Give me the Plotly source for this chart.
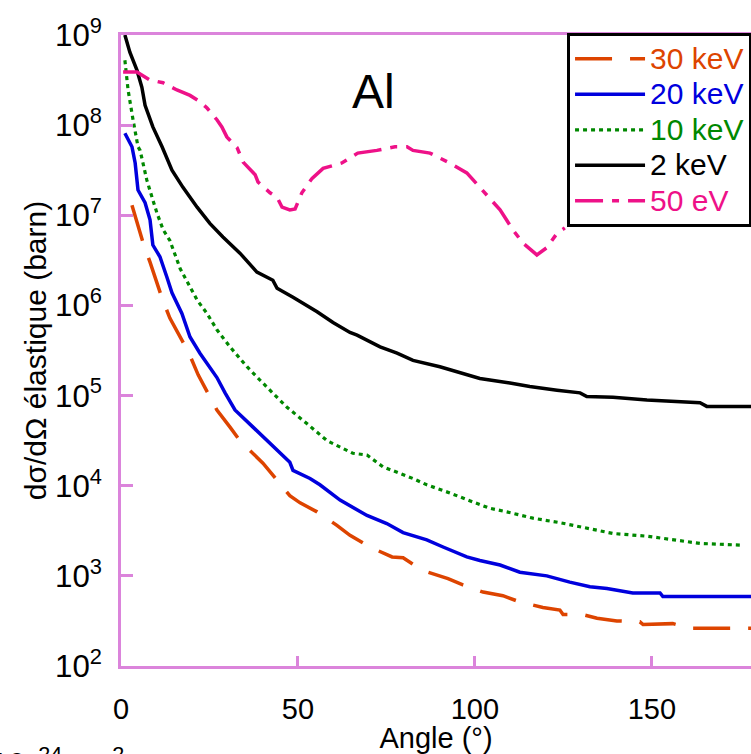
import plotly.graph_objects as go

# ---------------- data ----------------
names = ["30 keV", "20 keV", "10 keV", "2 keV", "50 eV"]
colors = ["#dd4400", "#0000dd", "#008800", "#000000", "#ee1188"]

angle_30kev = [3.1, 6.2, 8.2, 11.6, 13.8, 16.7, 19.2, 21.8, 27.1, 30.8, 33.6, 40.1, 44.9, 47.7, 50.6,
               55.4, 61.0, 64.7, 70.3, 76.6, 79.7, 83.6, 86.7, 92.4, 96.6, 102.3, 107.9, 112.7, 119.2,
               124.0, 124.9, 130.5, 134.5, 140.1, 146.6, 147.5, 155.9, 160.7, 178.0]
log_30kev = [7.11, 6.70, 6.48, 6.08, 5.86, 5.65, 5.47, 5.23, 4.84, 4.65, 4.50, 4.25, 4.03, 3.89, 3.81,
             3.71, 3.56, 3.45, 3.32, 3.21, 3.20, 3.10, 3.04, 2.97, 2.90, 2.82, 2.78, 2.71, 2.65,
             2.62, 2.57, 2.57, 2.53, 2.50, 2.49, 2.46, 2.47, 2.42, 2.42]

angle_20kev = [1.1, 3.1, 4.0, 4.8, 6.8, 8.2, 9.0, 11.0, 13.0, 14.4, 17.2, 19.5, 22.3, 27.1, 29.4, 32.2,
               37.3, 41.2, 45.8, 47.7, 48.6, 53.4, 56.2, 61.9, 69.5, 75.1, 79.7, 86.4, 91.0, 97.7,
               101.4, 107.1, 112.7, 120.3, 126.8, 132.5, 137.3, 144.6, 152.3, 153.1, 178.0]
log_20kev = [7.91, 7.76, 7.58, 7.28, 7.14, 6.95, 6.67, 6.54, 6.31, 6.14, 5.91, 5.65, 5.47, 5.20, 5.03, 4.84,
             4.65, 4.50, 4.32, 4.26, 4.17, 4.08, 4.01, 3.84, 3.67, 3.58, 3.48, 3.40, 3.32, 3.21,
             3.17, 3.12, 3.04, 3.00, 2.93, 2.88, 2.86, 2.81, 2.81, 2.77, 2.77]

angle_10kev = [1.1, 2.0, 3.4, 4.8, 5.4, 7.3, 9.0, 10.2, 11.9, 13.8, 16.7, 18.9, 21.5, 24.3, 27.1, 30.8,
               35.6, 39.3, 42.9, 46.9, 52.5, 58.2, 65.5, 69.5, 74.0, 82.5, 86.4, 92.9, 99.4, 104.2,
               109.0, 116.4, 124.0, 131.6, 139.0, 148.6, 154.2, 163.6, 175.7]
log_10kev = [8.72, 8.39, 8.06, 7.76, 7.72, 7.39, 7.17, 7.02, 6.84, 6.72, 6.41, 6.25, 6.06, 5.91, 5.73, 5.54,
             5.32, 5.17, 5.03, 4.87, 4.69, 4.50, 4.36, 4.34, 4.21, 4.08, 4.01, 3.92, 3.82, 3.75,
             3.71, 3.64, 3.59, 3.53, 3.47, 3.44, 3.41, 3.36, 3.34]

angle_2kev = [1.1, 2.5, 4.5, 5.9, 6.8, 9.0, 11.6, 14.4, 17.5, 21.5, 25.1, 28.8, 33.6, 38.4, 42.9, 44.1,
              48.6, 55.4, 59.9, 64.7, 66.7, 73.2, 78.0, 82.5, 90.1, 95.8, 101.4, 109.9, 115.5, 123.2,
              129.7, 131.6, 139.0, 148.6, 163.6, 165.5, 178.0]
log_2kev = [9.0, 8.81, 8.61, 8.42, 8.22, 7.98, 7.76, 7.50, 7.31, 7.09, 6.91, 6.76, 6.58, 6.37, 6.28, 6.19,
            6.09, 5.93, 5.81, 5.70, 5.67, 5.54, 5.47, 5.39, 5.32, 5.25, 5.19, 5.14, 5.10, 5.06,
            5.03, 4.99, 4.98, 4.95, 4.92, 4.88, 4.88]

angle_50ev = [0.6, 4.5, 8.2, 11.9, 15.8, 19.5, 22.3, 24.3, 27.1, 28.5, 29.9, 32.8, 34.5, 37.9, 38.7, 42.1,
              44.1, 45.5, 47.7, 49.2, 51.1, 54.0, 57.1, 62.4, 66.9, 72.3, 77.4, 80.8, 82.5, 87.3,
              92.9, 97.7, 101.4, 107.1, 110.7, 113.6, 117.5, 120.3, 123.2, 125.4]
log_50ev = [8.59, 8.59, 8.50, 8.47, 8.39, 8.33, 8.26, 8.19, 8.06, 7.98, 7.87, 7.75, 7.59, 7.45, 7.37, 7.25,
            7.20, 7.09, 7.06, 7.07, 7.25, 7.41, 7.52, 7.58, 7.69, 7.72, 7.76, 7.76, 7.72, 7.69,
            7.58, 7.47, 7.31, 7.06, 6.84, 6.69, 6.56, 6.64, 6.80, 6.86]

x_ticks = [0, 50, 100, 150]
title_text = "Al"
x_title = "Angle (°)"
y_title = "dσ/dΩ élastique (barn)"

# ---------------- figure ----------------
FONT = "Liberation Sans, Arial, sans-serif"
AXIS_COLOR = "#db84db"

series = [
    (angle_30kev, log_30kev, "37px,18px", 3.5),
    (angle_20kev, log_20kev, "solid", 3.5),
    (angle_10kev, log_10kev, "4px,4px", 3.2),
    (angle_2kev, log_2kev, "solid", 3.5),
    (angle_50ev, log_50ev, "28px,9px,7px,9px", 3.5),
]

fig = go.Figure()
for (xs, ls, dash, w), name, col in zip(series, names, colors):
    fig.add_trace(go.Scatter(
        x=xs, y=[10 ** v for v in ls], mode="lines",
        name=f'<span style="font-size:30px;color:{col}">{name}</span>',
        line=dict(color=col, width=w, dash=dash),
    ))

fig.update_layout(
    width=751, height=754,
    margin=dict(l=121, r=0, t=35, b=88, autoexpand=False),
    paper_bgcolor="white", plot_bgcolor="white",
    font=dict(family=FONT, size=29, color="black"),
    showlegend=True,
    legend=dict(
        x=0.708, y=1.003, xanchor="left", yanchor="top",
        bgcolor="white", bordercolor="black", borderwidth=3,
        font=dict(size=25, family=FONT),
        itemwidth=70, tracegroupgap=0,
        entrywidth=140, entrywidthmode="pixels",
    ),
    annotations=[
        dict(text=title_text, xref="paper", yref="paper", x=0.40, y=0.91,
             showarrow=False, font=dict(size=48, family=FONT, color="black"),
             xanchor="center", yanchor="middle"),
        dict(text="10<sup>−24</sup> cm<sup>2</sup>", xref="paper", yref="paper",
             x=-0.21, y=-0.117, xanchor="left", yanchor="top", showarrow=False,
             font=dict(size=31, family=FONT, color="black")),
    ],
)

fig.update_xaxes(
    range=[0, 178], tickvals=x_ticks, ticks="inside", ticklen=10, tickwidth=3,
    tickcolor=AXIS_COLOR, showline=True, linecolor=AXIS_COLOR, linewidth=3, mirror=True,
    showgrid=False, zeroline=False, ticklabelstandoff=15,
    tickfont=dict(size=29, family=FONT, color="black"),
    title=dict(text=x_title, font=dict(size=29, family=FONT), standoff=2),
)
fig.update_yaxes(
    type="log", range=[2, 9], dtick=1, exponentformat="power", showexponent="all",
    ticks="inside", ticklen=12, tickwidth=3, tickcolor=AXIS_COLOR,
    showline=True, linecolor=AXIS_COLOR, linewidth=3, mirror=False,
    showgrid=False, zeroline=False, ticklabelstandoff=11,
    tickfont=dict(size=25, family=FONT, color="black"),
    title=dict(text=y_title, font=dict(size=30, family=FONT), standoff=0),
)

fig.write_html("out.html")
